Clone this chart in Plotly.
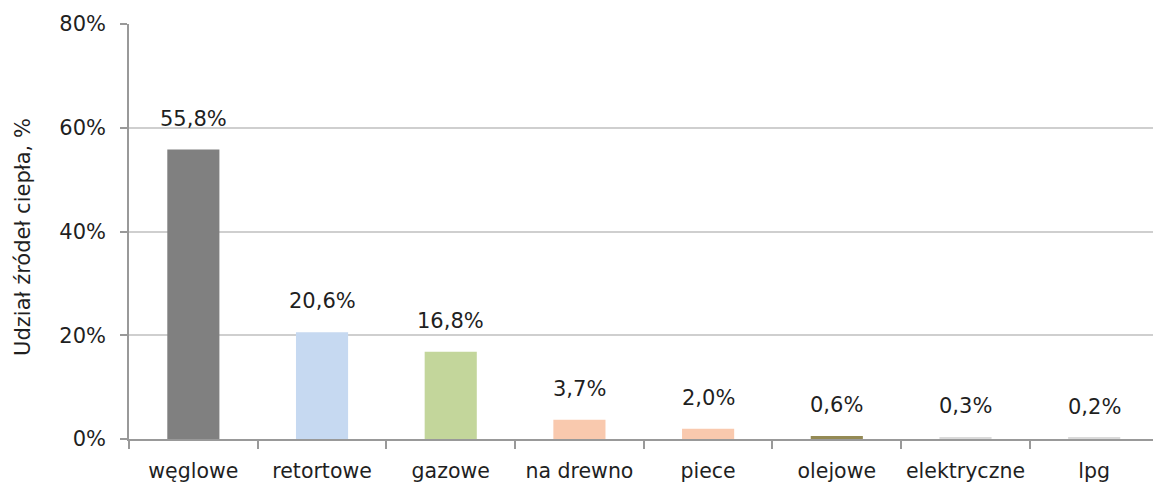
import plotly.graph_objects as go

categories = ["węglowe", "retortowe", "gazowe", "na drewno", "piece", "olejowe", "elektryczne", "lpg"]
values = [55.8, 20.6, 16.8, 3.7, 2.0, 0.6, 0.3, 0.2]
labels = ["55,8%", "20,6%", "16,8%", "3,7%", "2,0%", "0,6%", "0,3%", "0,2%"]
colors = ["#808080", "#C6D9F1", "#C3D69B", "#F9C9AE", "#F9C9AE", "#948A54", "#DADADA", "#DADADA"]
y_ticks = [0, 20, 40, 60, 80]
y_tick_labels = ["0%", "20%", "40%", "60%", "80%"]

FONT = "DejaVu Sans"
TXT = "#1F1F1F"

fig = go.Figure()
fig.add_trace(go.Bar(
    x=categories, y=values, marker=dict(color=colors, line=dict(width=0)),
    width=0.405, hoverinfo="skip", showlegend=False,
))

for c, v, t in zip(categories, values, labels):
    fig.add_annotation(x=c, y=v, text=t, showarrow=False, yanchor="bottom",
                       xanchor="center", yshift=17,
                       font=dict(family=FONT, size=21, color=TXT))

fig.add_annotation(x=-0.1035, y=0.487, xref="paper", yref="paper",
                   text="Udział źródeł ciepła, %", textangle=-90, showarrow=False,
                   xanchor="center", yanchor="middle",
                   font=dict(family=FONT, size=21, color=TXT))

fig.update_layout(
    width=1153, height=483,
    margin=dict(l=129, r=0, t=24, b=44),
    paper_bgcolor="white", plot_bgcolor="white",
    bargap=0.6,
    font=dict(family=FONT, size=20, color=TXT),
    xaxis=dict(
        type="category", range=[-0.5, 7.457], automargin=False,
        showline=True, linecolor="#999999", linewidth=1.5,
        ticks="outside", tickson="boundaries", ticklen=8, tickcolor="#999999", tickwidth=1.5,
        showgrid=False, tickfont=dict(family=FONT, size=20.5, color=TXT),
        ticklabelstandoff=13,
    ),
    yaxis=dict(
        range=[0, 80], tickvals=y_ticks, ticktext=y_tick_labels, automargin=False,
        showline=True, linecolor="#999999", linewidth=1.5,
        ticks="outside", ticklen=7, tickcolor="#999999", tickwidth=1.5,
        showgrid=True, gridcolor="#CFCFCF", gridwidth=1.5,
        zeroline=False,
        tickfont=dict(family=FONT, size=21, color=TXT),
        ticklabelstandoff=10,
    ),
)

fig.write_html("out.html", config={"displayModeBar": False},
               post_script="document.body.style.margin='0';")
